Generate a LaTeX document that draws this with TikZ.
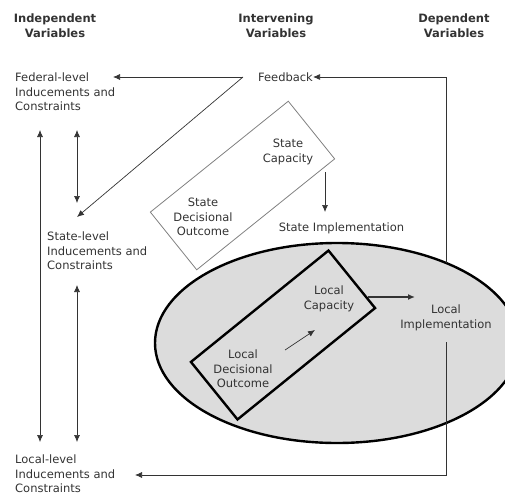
\documentclass[tikz,border=0pt]{standalone}
\usepackage{fontspec}
\setmainfont{DejaVu Sans}
\usetikzlibrary{arrows.meta,shapes.geometric}

\definecolor{ink}{HTML}{333333}
\definecolor{shade}{HTML}{DCDCDC}

\tikzset{
    lbl/.style={text=ink, font=\fontsize{11.5}{14.7}\selectfont, inner sep=0pt},
    head/.style={lbl, font=\fontsize{11.5}{14.7}\selectfont\bfseries, align=center},
    conn/.style={draw=ink, line width=0.7pt, -{Latex[length=7pt,width=6pt]}},
    twoway/.style={draw=ink, line width=0.7pt, {Latex[length=7pt,width=6pt]}-{Latex[length=7pt,width=6pt]}},
    staterect/.style={draw=gray, line width=0.8pt, rectangle, minimum width=177pt, minimum height=74pt, rotate=38.8, inner sep=0pt},
    localrect/.style={draw=black, line width=2.4pt, rectangle, minimum width=177pt, minimum height=74pt, rotate=39, inner sep=0pt}
}

\begin{document}
\begin{tikzpicture}[x=1pt,y=-1pt]
    \useasboundingbox (0,0) rectangle (505,495);

    % column headings
    \node[head] (Indep) at (55,25.5) {Independent\\Variables};
    \node[head] (Interv) at (276,25.5) {Intervening\\Variables};
    \node[head] (Dep) at (454,25.5) {Dependent\\Variables};

    % levels on the left
    \node[lbl, anchor=west, align=left] (Federal) at (15,92) {Federal-level\\Inducements and\\Constraints};
    \node[lbl, anchor=west, align=left] (StateLvl) at (47,251) {State-level\\Inducements and\\Constraints};
    \node[lbl, anchor=west, align=left] (LocalLvl) at (15,474) {Local-level\\Inducements and\\Constraints};

    \node[lbl] (Feedback) at (285.5,77) {Feedback};

    % local ellipse
    \node[ellipse, draw=black, fill=shade, line width=2.4pt, minimum width=364pt, minimum height=200pt] (LocalEll) at (337,343) {};

    % state box
    \node[staterect] (StateBox) at (242.5,185.5) {};
    \node[lbl, align=center] (StateCap) at (288,152) {State\\Capacity};
    \node[lbl, align=center] (StateDec) at (203,217) {State\\Decisional\\Outcome};
    \node[lbl] (StateImp) at (341.5,228) {State Implementation};

    % local box
    \node[localrect] (LocalBox) at (283,335) {};
    \node[lbl, align=center] (LocalCap) at (329,299) {Local\\Capacity};
    \node[lbl, align=center] (LocalDec) at (243,369) {Local\\Decisional\\Outcome};
    \node[lbl, align=center] (LocalImp) at (446,318) {Local\\Implementation};

    % connector points
    \coordinate (Split) at (243,77);
    \coordinate (FedTip) at (113,77);
    \coordinate (StateTip) at (77,217);
    \coordinate (FbTop) at (446,77);
    \coordinate (FbFoot) at (446,263);
    \coordinate (ImpFoot) at (446,475);
    \coordinate (LocTip) at (135,475);

    % feedback loop
    \draw[conn] (Split) -- (FedTip);
    \draw[conn] (Split) -- (StateTip);
    \draw[conn] (FbFoot) -- (FbTop) -- (Feedback.east);
    \draw[conn] (LocalImp.south |- 0,342) -- (ImpFoot) -- (LocTip);

    % vertical links between levels
    \draw[twoway] (77,130) -- (77,203);
    \draw[twoway] (40,130) -- (40,442);
    \draw[twoway] (77,285) -- (77,442);

    % state and local flow
    \draw[conn] (325,172) -- (325,212);
    \draw[conn] (285,350) -- (315,330);
    \draw[conn, line width=1.6pt] (368,297) -- (415,297);
\end{tikzpicture}
\end{document}
